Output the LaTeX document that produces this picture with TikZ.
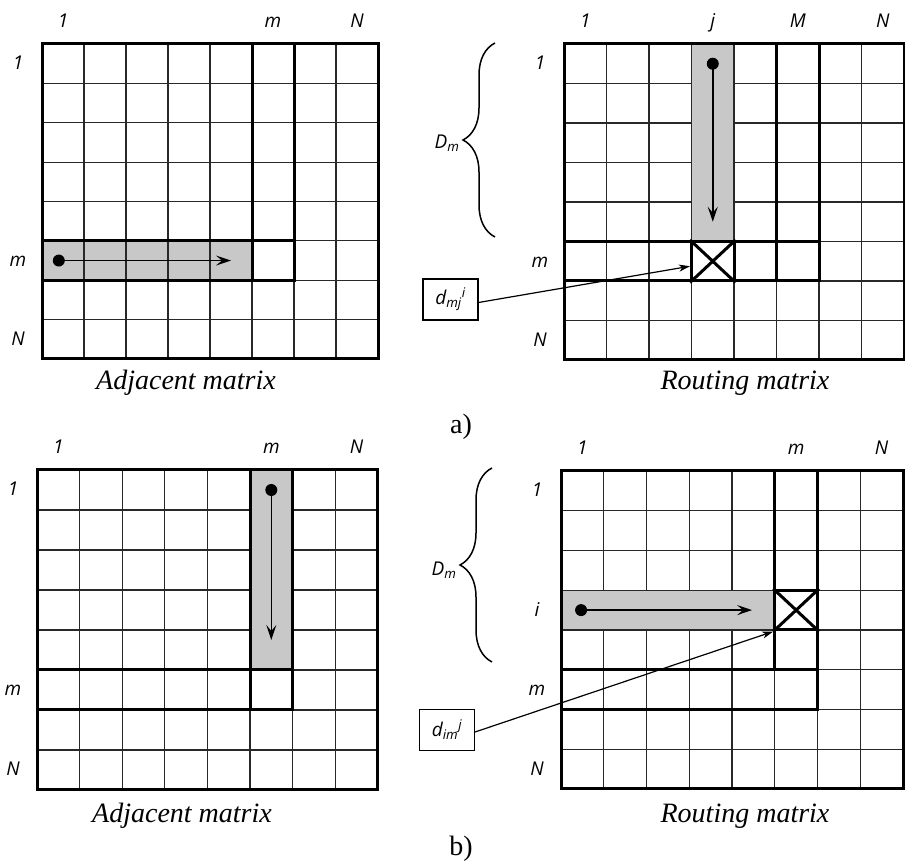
\documentclass[tikz,border=0pt]{standalone}
\usepackage{fontspec}
\setmainfont{Liberation Serif}
\newfontfamily\lblfont{Open Sans}
\usetikzlibrary{arrows.meta, positioning, calc, decorations.pathreplacing}

\definecolor{cellgray}{RGB}{200,200,200}
\definecolor{gridgray}{RGB}{40,40,40}

\tikzset{
    gridline/.style={line width=1.2pt, draw=gridgray},
    boldline/.style={line width=3pt, line cap=rect},
    lbl/.style={font=\lblfont\itshape\fontsize{19}{21}\selectfont, inner sep=0pt, anchor=base},
    collbl/.style={lbl, yshift=16pt},
    rowlbl/.style={lbl, xshift=-24pt, yshift=-6pt},
    caption/.style={font=\itshape\fontsize{28}{30}\selectfont, inner sep=0pt, anchor=base},
    sublbl/.style={font=\fontsize{28}{30}\selectfont, inner sep=0pt, anchor=base},
    flow/.style={-{Stealth[length=15pt, width=10pt, inset=6pt]}, line width=1.5pt},
    pointer/.style={-{Stealth[length=11pt, width=7pt, inset=3pt]}, line width=1.2pt},
    dot/.style={circle, fill=black, inner sep=0pt, minimum size=12pt},
    dbox/.style={draw, line width=1.1pt, minimum width=55pt, minimum height=41pt, inner sep=0pt,
        font=\lblfont\itshape\fontsize{19}{21}\selectfont},
    xcell/.style={draw, line width=3pt, inner sep=0pt},
    dbrace/.style={decorate, decoration={brace, amplitude=32pt}, line width=1.5pt},
}

\begin{document}
\begin{tikzpicture}[x=1pt, y=1pt]
    \path[use as bounding box] (0,0) rectangle (905,864);

    % a) adjacent matrix
    \begin{scope}[shift={(42,505)}, x=42pt, y=39.375pt]
        \fill[cellgray] (0,2) rectangle (5,3);
        \foreach \k in {1,...,7}
            \draw[gridline] (\k,0) -- (\k,8) (0,\k) -- (8,\k);
        \draw[boldline] (0,0) rectangle (8,8);
        \draw[boldline] (5,2) -- (5,8) (6,2) -- (6,8) (0,2) -- (6,2) (0,3) -- (6,3);
        \node[dot] (sA) at (0.4,2.5) {};
        \coordinate (eA) at (4.5,2.5);
        \draw[flow] (sA.center) -- (eA);
        \node[collbl] (cA1) at (0.5,8) {1};
        \node[collbl] (cAm) at (5.5,8) {m};
        \node[collbl] (cAN) at (7.5,8) {N};
        \node[rowlbl] (rA1) at (0,7.5) {1};
        \node[rowlbl] (rAm) at (0,2.5) {m};
        \node[rowlbl] (rAN) at (0,0.5) {N};
    \end{scope}

    % a) routing matrix
    \begin{scope}[shift={(564,504)}, x=42.5pt, y=39.5pt]
        \foreach \k in {1,...,7}
            \draw[gridline] (\k,0) -- (\k,8) (0,\k) -- (8,\k);
        \fill[cellgray] ($(3,3)+(0.6pt,0)$) rectangle ($(4,8)+(-0.6pt,0)$);
        \draw[boldline] (0,0) rectangle (8,8);
        \draw[boldline] (5,2) -- (5,8) (6,2) -- (6,8) (0,2) -- (6,2) (0,3) -- (6,3);
        \node[xcell, minimum width=42.5pt, minimum height=39.5pt] (xA) at (3.5,2.5) {};
        \draw[line width=3pt] (xA.north west) -- (xA.south east) (xA.north east) -- (xA.south west);
        \node[dot] (sR) at (3.5,7.5) {};
        \coordinate (eR) at (3.5,3.5);
        \draw[flow] (sR.center) -- (eR);
        \node[collbl] (cR1) at (0.5,8) {1};
        \node[collbl] (cRj) at (3.5,8) {j};
        \node[collbl] (cRM) at (5.5,8) {M};
        \node[collbl] (cRN) at (7.5,8) {N};
        \node[rowlbl] (rR1) at (0,7.5) {1};
        \node[rowlbl] (rRm) at (0,2.5) {m};
        \node[rowlbl] (rRN) at (0,0.5) {N};
    \end{scope}

    \draw[dbrace] (495,627) -- (495,821);
    \node[lbl, anchor=center] (DmA) at (447,721) {D\textsubscript{m}};
    \node[dbox] (dA) at (450.5,564.5) {d\textsubscript{mj}\textsuperscript{i}};
    \draw[pointer] ([yshift=-3pt]dA.east) -- ([yshift=-5pt]xA.west);

    \node[caption] (capA1) at (186,474) {Adjacent matrix};
    \node[caption] (capR1) at (745,474) {Routing matrix};
    \node[sublbl] (subA) at (461,430) {a)};

    % b) adjacent matrix
    \begin{scope}[shift={(37,74)}, x=42.6pt, y=40pt]
        \foreach \k in {1,...,7}
            \draw[gridline] (\k,0) -- (\k,8) (0,\k) -- (8,\k);
        \fill[cellgray] ($(5,3)+(0,0.6pt)$) rectangle ($(6,8)+(0,-0.6pt)$);
        \draw[boldline] (0,0) rectangle (8,8);
        \draw[boldline] (5,2) -- (5,8) (6,2) -- (6,8) (0,2) -- (6,2) (0,3) -- (6,3);
        \node[dot] (sB) at (5.5,7.5) {};
        \coordinate (eB) at (5.5,3.75);
        \draw[flow] (sB.center) -- (eB);
        \node[collbl] (cB1) at (0.5,8) {1};
        \node[collbl] (cBm) at (5.5,8) {m};
        \node[collbl] (cBN) at (7.5,8) {N};
        \node[rowlbl] (rB1) at (0,7.5) {1};
        \node[rowlbl] (rBm) at (0,2.5) {m};
        \node[rowlbl] (rBN) at (0,0.5) {N};
    \end{scope}

    % b) routing matrix
    \begin{scope}[shift={(561,75)}, x=42.75pt, y=39.75pt]
        \foreach \k in {1,...,7}
            \draw[gridline] (\k,0) -- (\k,8) (0,\k) -- (8,\k);
        \fill[cellgray] ($(0,4)+(0,0.6pt)$) rectangle ($(5,5)+(0,-0.6pt)$);
        \draw[boldline] (0,0) rectangle (8,8);
        \draw[boldline] (5,3) -- (5,8) (6,2) -- (6,8) (0,2) -- (6,2) (0,3) -- (6,3);
        \node[xcell, minimum width=42.75pt, minimum height=39.75pt] (xB) at (5.5,4.5) {};
        \draw[line width=3pt] (xB.north west) -- (xB.south east) (xB.north east) -- (xB.south west);
        \node[dot] (sS) at (0.47,4.5) {};
        \coordinate (eS) at (4.47,4.5);
        \draw[flow] (sS.center) -- (eS);
        \node[collbl] (cS1) at (0.5,8) {1};
        \node[collbl] (cSm) at (5.5,8) {m};
        \node[collbl] (cSN) at (7.5,8) {N};
        \node[rowlbl] (rS1) at (0,7.5) {1};
        \node[rowlbl] (rSi) at (0,4.5) {i};
        \node[rowlbl] (rSm) at (0,2.5) {m};
        \node[rowlbl] (rSN) at (0,0.5) {N};
    \end{scope}

    \draw[dbrace] (492,202) -- (492,396);
    \node[lbl, anchor=center] (DmB) at (444,294) {D\textsubscript{m}};
    \node[dbox] (dB) at (447,134) {d\textsubscript{im}\textsuperscript{j}};
    \draw[pointer] ([yshift=-2pt]dB.east) -- (xB.south west);

    \node[caption] (capA2) at (182,41) {Adjacent matrix};
    \node[caption] (capR2) at (745,41) {Routing matrix};
    \node[sublbl] (subB) at (461,8) {b)};
\end{tikzpicture}
\end{document}
